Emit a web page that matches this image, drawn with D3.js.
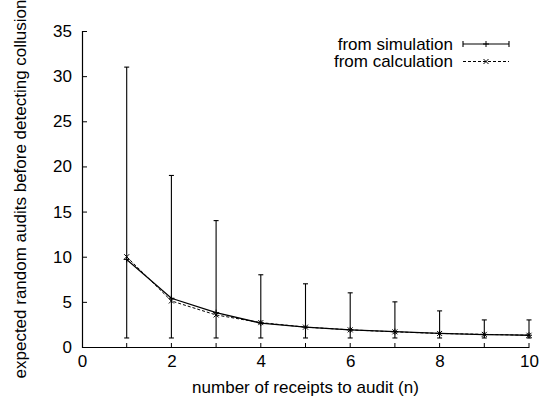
<!DOCTYPE html>
<html>
<head>
<meta charset="utf-8">
<script src="https://cdn.jsdelivr.net/npm/d3@7"></script>
<style>
  html, body { margin: 0; padding: 0; background: #fff; }
  svg text { font-family: "Liberation Sans", Arial, Helvetica, sans-serif; fill: #000; }
</style>
</head>
<body>
<div id="chart"></div>
<script>
// receipts audited (n)
const receipts = [1, 2, 3, 4, 5, 6, 7, 8, 9, 10];
// simulation: mean audits, min and max observed
const simMean = [9.7, 5.4, 3.8, 2.65, 2.2, 1.9, 1.7, 1.5, 1.38, 1.3];
const simMin = [1, 1, 1, 1, 1, 1, 1, 1, 1, 1];
const simMax = [31, 19, 14, 8, 7, 6, 5, 4, 3, 3];
// closed-form calculation
const calcMean = [10, 5.1, 3.55, 2.7, 2.2, 1.9, 1.68, 1.5, 1.4, 1.3];

const xTicks = [0, 2, 4, 6, 8, 10];
const xMinorTicks = [1, 2, 3, 4, 5, 6, 7, 8, 9, 10];
const yTicks = [0, 5, 10, 15, 20, 25, 30, 35];

const seriesNames = ['from simulation', 'from calculation'];
const xLabel = 'number of receipts to audit (n)';
const yLabel = 'expected random audits before detecting collusion';

const width = 551, height = 404;
const margin = { left: 82, right: 22, top: 31, bottom: 57 };
const fontSize = 17;

const svg = d3.select('#chart').append('svg')
  .attr('width', width)
  .attr('height', height);

svg.append('rect').attr('width', width).attr('height', height).attr('fill', '#fff');

const x = d3.scaleLinear().domain([0, 10]).range([margin.left, width - margin.right]);
const y = d3.scaleLinear().domain([0, 35]).range([height - margin.bottom, margin.top]);

// axes: gnuplot-like, ticks pointing inward
const xAxis = svg.append('g')
  .attr('transform', `translate(0,${y(0)})`)
  .call(d3.axisBottom(x).tickValues(xTicks).tickSize(0).tickPadding(8).tickFormat(d3.format('d')));
xAxis.select('.domain').attr('stroke', '#000').attr('stroke-width', 1.2);
xAxis.selectAll('text').attr('font-size', fontSize).attr('font-family', null);

svg.append('g').selectAll('line')
  .data(xMinorTicks)
  .join('line')
  .attr('x1', d => x(d)).attr('x2', d => x(d))
  .attr('y1', y(0)).attr('y2', y(0) - 4)
  .attr('stroke', '#000').attr('stroke-width', 1);

const yAxis = svg.append('g')
  .attr('transform', `translate(${x(0)},0)`)
  .call(d3.axisLeft(y).tickValues(yTicks).tickSize(-5).tickPadding(10).tickFormat(d3.format('d')));
yAxis.select('.domain').attr('stroke', '#000').attr('stroke-width', 1.2);
yAxis.selectAll('.tick line').attr('stroke', '#000');
yAxis.selectAll('text').attr('font-size', fontSize).attr('font-family', null);

// axis labels
svg.append('text')
  .attr('x', (x(0) + x(10)) / 2)
  .attr('y', 393)
  .attr('text-anchor', 'middle')
  .attr('font-size', fontSize)
  .text(xLabel);

svg.append('text')
  .attr('transform', `translate(26,${(y(0) + y(35)) / 2}) rotate(-90)`)
  .attr('text-anchor', 'middle')
  .attr('font-size', fontSize)
  .text(yLabel);

const capW = 2.5;

// error bars
const bars = svg.append('g').attr('stroke', '#000').attr('stroke-width', 1.1);
receipts.forEach((n, i) => {
  bars.append('line')
    .attr('x1', x(n)).attr('x2', x(n))
    .attr('y1', y(simMin[i])).attr('y2', y(simMax[i]));
  [simMin[i], simMax[i]].forEach(v => {
    bars.append('line')
      .attr('x1', x(n) - capW).attr('x2', x(n) + capW)
      .attr('y1', y(v)).attr('y2', y(v));
  });
});

const line = d3.line().x(d => x(d[0])).y(d => y(d[1]));

// calculation: dashed with x markers
const calcPts = receipts.map((n, i) => [n, calcMean[i]]);
svg.append('path')
  .attr('d', line(calcPts))
  .attr('fill', 'none')
  .attr('stroke', '#000')
  .attr('stroke-width', 1)
  .attr('stroke-dasharray', '3,2');

function crossMark(g, cx, cy, s) {
  g.append('path')
    .attr('d', `M${cx - s},${cy - s}L${cx + s},${cy + s}M${cx - s},${cy + s}L${cx + s},${cy - s}`)
    .attr('stroke', '#000').attr('stroke-width', 1).attr('fill', 'none');
}
function plusMark(g, cx, cy, s) {
  g.append('path')
    .attr('d', `M${cx - s},${cy}L${cx + s},${cy}M${cx},${cy - s}L${cx},${cy + s}`)
    .attr('stroke', '#000').attr('stroke-width', 1).attr('fill', 'none');
}

const marks = svg.append('g');
calcPts.forEach(p => crossMark(marks, x(p[0]), y(p[1]), 2.5));

// simulation: solid with + markers
const simPts = receipts.map((n, i) => [n, simMean[i]]);
svg.append('path')
  .attr('d', line(simPts))
  .attr('fill', 'none')
  .attr('stroke', '#000')
  .attr('stroke-width', 1.3);
simPts.forEach(p => plusMark(marks, x(p[0]), y(p[1]), 3));

// legend
const legend = svg.append('g');
const lx0 = 463, lx1 = 509, lTextX = 453;
const rows = [44, 61.5];

legend.selectAll('text')
  .data(seriesNames)
  .join('text')
  .attr('x', lTextX)
  .attr('y', (d, i) => rows[i])
  .attr('dy', '0.35em')
  .attr('text-anchor', 'end')
  .attr('font-size', fontSize)
  .text(d => d);

// simulation sample
legend.append('line')
  .attr('x1', lx0).attr('x2', lx1).attr('y1', rows[0]).attr('y2', rows[0])
  .attr('stroke', '#000').attr('stroke-width', 1.1);
[lx0, lx1].forEach(lx => {
  legend.append('line')
    .attr('x1', lx).attr('x2', lx).attr('y1', rows[0] - 3).attr('y2', rows[0] + 3)
    .attr('stroke', '#000').attr('stroke-width', 1.1);
});
plusMark(legend, (lx0 + lx1) / 2, rows[0], 3);

// calculation sample
legend.append('line')
  .attr('x1', lx0).attr('x2', lx1).attr('y1', rows[1]).attr('y2', rows[1])
  .attr('stroke', '#000').attr('stroke-width', 1)
  .attr('stroke-dasharray', '3,2');
crossMark(legend, (lx0 + lx1) / 2, rows[1], 2.5);
</script>
</body>
</html>
